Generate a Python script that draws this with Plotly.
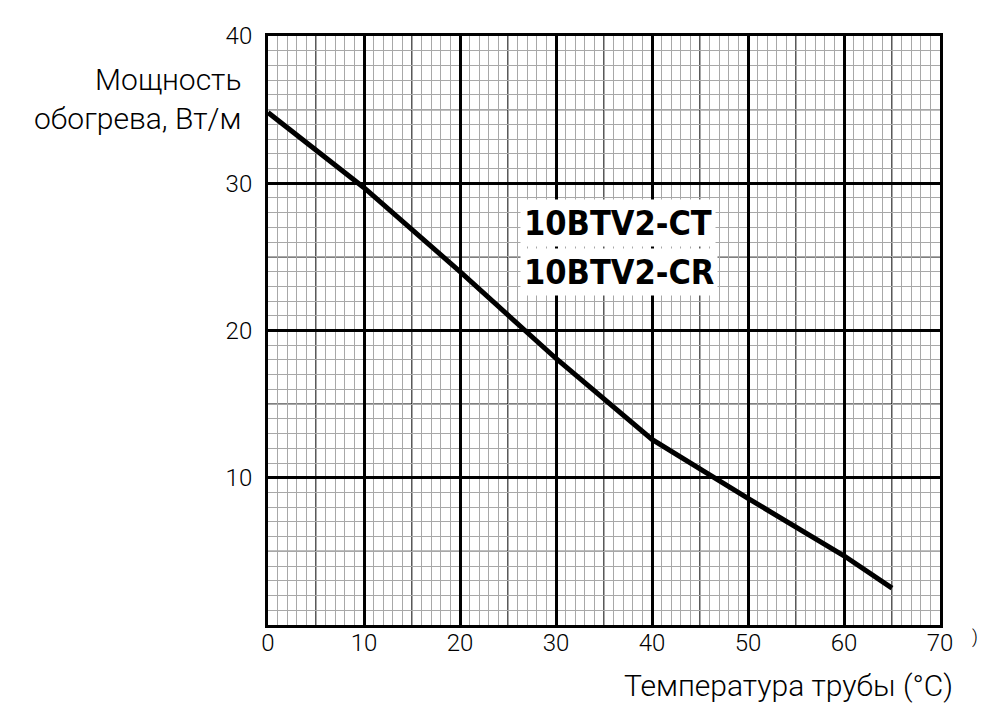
import plotly.graph_objects as go

# heating power curve
temps = [0, 10, 20, 30, 40, 50, 60, 65]
power = [34.8, 29.7, 24.0, 18.1, 12.6, 8.6, 4.7, 2.5]

x_ticks = [0, 10, 20, 30, 40, 50, 60, 70]
y_ticks = [10, 20, 30, 40]
cable_names = ["10BTV2-CT", "10BTV2-CR"]

y_title = "Мощность<br>обогрева, Вт/м"
x_title = "Температура трубы (°C)"

fig = go.Figure()

# the curve itself
fig.add_trace(go.Scatter(
    x=temps,
    y=power,
    mode='lines',
    line=dict(color='black', width=5),
    showlegend=False,
    hoverinfo='skip'
))

# thin black lines every 5 units (between the 1 and 10 grids)
shapes = []
for v in range(5, 70, 10):
    shapes.append(dict(type='line', xref='x', yref='paper', x0=v, x1=v, y0=0, y1=1,
                       line=dict(color='black', width=1.3), layer='between'))
for v in range(5, 40, 10):
    shapes.append(dict(type='line', xref='paper', yref='y', x0=0, x1=1, y0=v, y1=v,
                       line=dict(color='black', width=1.3), layer='between'))

axis_font = dict(family='Roboto', size=24, color='black', weight=300)

annotations = [
    dict(
        text=y_title,
        xref='paper', yref='paper',
        x=-0.037, y=0.893,
        xanchor='right', yanchor='middle',
        align='right',
        showarrow=False,
        font=dict(family='Roboto', size=30, color='black', weight=300)
    ),
    dict(
        text=x_title,
        xref='paper', yref='paper',
        x=1.022, y=-0.102,
        xanchor='right', yanchor='middle',
        showarrow=False,
        font=dict(family='Roboto', size=30, color='black', weight=300)
    ),
    dict(
        text=")",
        xref='paper', yref='paper',
        x=1.045, y=-0.02,
        xanchor='left', yanchor='middle',
        showarrow=False,
        font=dict(family='Roboto', size=18, color='black', weight=300)
    )
]

# cable names, one box per line so the spacing matches
for name, ypos in zip(cable_names, [0.683, 0.599]):
    annotations.append(dict(
        text="<b>" + name + "</b>",
        xref='paper', yref='paper',
        x=0.375, y=ypos,
        xanchor='left', yanchor='middle',
        align='left',
        showarrow=False,
        bgcolor='white',
        borderpad=3,
        font=dict(family='DejaVu Sans Condensed', size=34, color='black')
    ))

# page has an 8px body margin, so the figure is a bit smaller than the window
fig.update_layout(
    width=970,
    height=704,
    paper_bgcolor='white',
    plot_bgcolor='white',
    margin=dict(l=260, r=38, t=28, b=87),
    shapes=shapes,
    annotations=annotations,
    xaxis=dict(
        range=[0, 70],
        tickvals=x_ticks,
        ticktext=[str(v) for v in x_ticks],
        tickfont=axis_font,
        ticks='',
        ticklabelstandoff=-6,
        showgrid=True,
        gridcolor='black',
        gridwidth=2.5,
        minor=dict(dtick=1, showgrid=True, gridcolor='#a8a8a8', gridwidth=1.2),
        showline=True,
        linecolor='black',
        linewidth=3,
        mirror=True,
        zeroline=False,
        fixedrange=True
    ),
    yaxis=dict(
        range=[0, 40],
        tickvals=y_ticks,
        ticktext=[str(v) for v in y_ticks],
        tickfont=axis_font,
        ticks='',
        ticklabelstandoff=8,
        showgrid=True,
        gridcolor='black',
        gridwidth=2.5,
        minor=dict(dtick=1, showgrid=True, gridcolor='#a8a8a8', gridwidth=1.2),
        showline=True,
        linecolor='black',
        linewidth=3,
        mirror=True,
        zeroline=False,
        fixedrange=True
    )
)

fig.write_html("out.html")
